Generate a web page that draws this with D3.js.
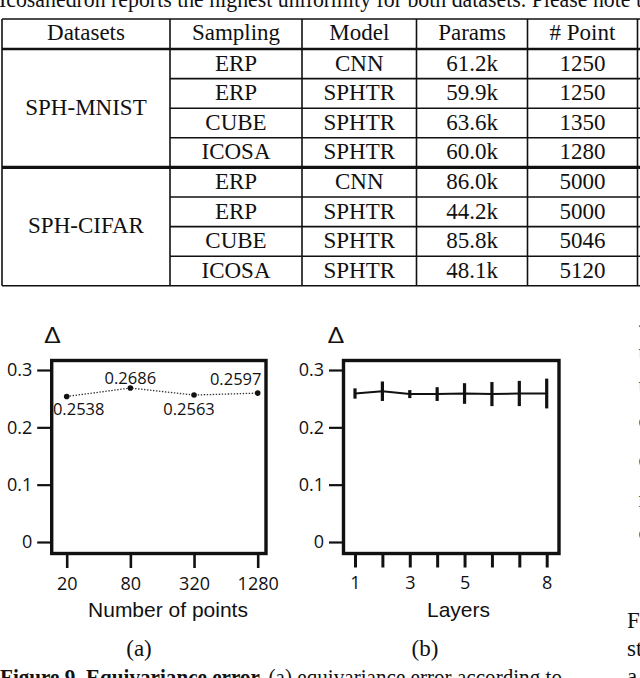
<!DOCTYPE html>
<html>
<head>
<meta charset="utf-8">
<script src="https://cdn.jsdelivr.net/npm/d3@7"></script>
<style>
  body { margin: 0; background: #fff; }
  svg { display: block; }
  .serif { font-family: "Liberation Serif", "Times New Roman", serif; fill: #111; }
  .sans { font-family: "Open Sans", "Noto Sans", sans-serif; fill: #111; }
  .arial { font-family: "Liberation Sans", Arial, sans-serif; fill: #111; }
</style>
</head>
<body>
<svg width="640" height="678"></svg>
<script>
// text and table content
const topLine = "Icosahedron reports the highest uniformity for both datasets. Please note t";
const headers = ["Datasets", "Sampling", "Model", "Params", "# Point"];
const datasets = ["SPH-MNIST", "SPH-CIFAR"];
const sampling = ["ERP", "ERP", "CUBE", "ICOSA", "ERP", "ERP", "CUBE", "ICOSA"];
const models = ["CNN", "SPHTR", "SPHTR", "SPHTR", "CNN", "SPHTR", "SPHTR", "SPHTR"];
const params = ["61.2k", "59.9k", "63.6k", "60.0k", "86.0k", "44.2k", "85.8k", "48.1k"];
const points = ["1250", "1250", "1350", "1280", "5000", "5000", "5046", "5120"];

// chart (a)
const numPoints = ["20", "80", "320", "1280"];
const deltaA = [0.2538, 0.2686, 0.2563, 0.2597];
// chart (b)
const layers = [1, 2, 3, 4, 5, 6, 7, 8];
const deltaB = [0.259, 0.263, 0.258, 0.258, 0.259, 0.258, 0.259, 0.259];
const errB = [0.009, 0.017, 0.007, 0.012, 0.018, 0.021, 0.022, 0.026];
const layerLabels = [1, 3, 5, 8];
const yTicks = [0, 0.1, 0.2, 0.3];

const captionA = "(a)", captionB = "(b)";
const figCaption = ["Figure 9.", " Equivariance error.", " (a) equivariance error according to"];
const rightCol = ["F", "st", "a"];
const edgeBits = ["-", "u", "u", "c", "c", "r", "c"];

const svg = d3.select("svg");
const ink = "#111";

// top text line, cut by the page edge
svg.append("text").attr("class", "serif")
  .attr("x", -1).attr("y", 7)
  .attr("font-size", 22.5)
  .attr("textLength", 643).attr("lengthAdjust", "spacingAndGlyphs")
  .text(topLine);

// ---- table ----
const colX = [2, 170, 302, 416.5, 527.5, 637.5];
const tableTop = 19, headBottom = 49, rowH = 29.6;
const nRows = sampling.length;
const tableBottom = headBottom + nRows * rowH;
const tbl = svg.append("g");

// vertical lines
colX.forEach(x => {
  tbl.append("line").attr("x1", x).attr("x2", x)
    .attr("y1", tableTop).attr("y2", tableBottom)
    .attr("stroke", ink).attr("stroke-width", 1.6);
});
// horizontal lines
tbl.append("line").attr("x1", colX[0]).attr("x2", 640)
  .attr("y1", tableTop).attr("y2", tableTop).attr("stroke", ink).attr("stroke-width", 1.6);
tbl.append("line").attr("x1", colX[0]).attr("x2", 640)
  .attr("y1", headBottom).attr("y2", headBottom).attr("stroke", ink).attr("stroke-width", 2.4);
d3.range(1, nRows + 1).forEach(i => {
  const y = headBottom + i * rowH;
  const group = i === nRows / 2;
  tbl.append("line")
    .attr("x1", group || i === nRows ? colX[0] : colX[1]).attr("x2", 640)
    .attr("y1", y).attr("y2", y)
    .attr("stroke", ink).attr("stroke-width", group ? 3.2 : 1.6);
});

const colCenter = i => (colX[i] + colX[i + 1]) / 2;
tbl.selectAll(".hdr").data(headers).enter().append("text")
  .attr("class", "serif").attr("font-size", 23).attr("text-anchor", "middle")
  .attr("x", (d, i) => colCenter(i)).attr("y", tableTop + 20.5)
  .text(d => d);

const cols = [sampling, models, params, points];
cols.forEach((arr, c) => {
  tbl.selectAll(".c" + c).data(arr).enter().append("text")
    .attr("class", "serif").attr("font-size", 23).attr("text-anchor", "middle")
    .attr("x", colCenter(c + 1))
    .attr("y", (d, i) => headBottom + i * rowH + 21.5)
    .text(d => d);
});
datasets.forEach((d, g) => {
  const yMid = headBottom + (g * 4 + 2) * rowH;
  tbl.append("text").attr("class", "serif").attr("font-size", 23)
    .attr("text-anchor", "middle")
    .attr("x", colCenter(0)).attr("y", yMid + 6.5).text(d);
});

// ---- charts ----
const y = d3.scaleLinear().domain([0, 0.3]).range([542, 370]);

function frame(g, x0, x1) {
  g.append("rect").attr("x", x0).attr("y", 360.5)
    .attr("width", x1 - x0).attr("height", 193)
    .attr("fill", "none").attr("stroke", ink).attr("stroke-width", 3.4);
}

function yAxis(g, x0) {
  const ax = g.append("g").attr("transform", `translate(${x0},0)`)
    .call(d3.axisLeft(y).tickValues(yTicks).tickSize(14.5).tickPadding(5)
      .tickFormat(d => d === 0 ? "0" : d3.format(".1f")(d)));
  ax.select(".domain").remove();
  ax.selectAll("line").attr("stroke", ink).attr("stroke-width", 2.2);
  ax.selectAll("text").attr("class", "sans").attr("font-size", 18);
}

function delta(g, x) {
  g.append("text").attr("class", "sans").attr("font-size", 21)
    .attr("text-anchor", "middle").attr("x", x).attr("y", 343.5)
    .attr("transform", `translate(${x},0) scale(1.35,1) translate(${-x},0)`)
    .text("Δ");
}

// chart (a)
const ga = svg.append("g");
const xa = d3.scalePoint().domain(numPoints).range([66.7, 257.7]);
frame(ga, 51.7, 266);
yAxis(ga, 51.7);
delta(ga, 52.5);
const axA = ga.append("g").attr("transform", "translate(0,553.5)")
  .call(d3.axisBottom(xa).tickSize(14.5).tickPadding(9));
axA.select(".domain").remove();
axA.selectAll("line").attr("stroke", ink).attr("stroke-width", 2.6);
axA.selectAll("text").attr("class", "sans").attr("font-size", 18);

const ptsA = numPoints.map((n, i) => ({ n, v: deltaA[i] }));
ga.append("path").datum(ptsA)
  .attr("d", d3.line().x(d => xa(d.n)).y(d => y(d.v)))
  .attr("fill", "none").attr("stroke", "#333").attr("stroke-width", 1.3)
  .attr("stroke-dasharray", "1.4,1.6");
ga.selectAll(".dot").data(ptsA).enter().append("circle")
  .attr("cx", d => xa(d.n)).attr("cy", d => y(d.v)).attr("r", 2.8).attr("fill", ink);

// value labels: below / above the point, nudged sideways
const labelPlace = [{ dx: 12, dy: 18.5 }, { dx: 0, dy: -4 }, { dx: -5, dy: 20 }, { dx: -22, dy: -8 }];
ga.selectAll(".val").data(ptsA).enter().append("text")
  .attr("class", "sans").attr("font-size", 16.5).attr("text-anchor", "middle")
  .attr("x", (d, i) => xa(d.n) + labelPlace[i].dx)
  .attr("y", (d, i) => y(d.v) + labelPlace[i].dy)
  .text(d => d3.format(".4f")(d.v));

ga.append("text").attr("class", "arial").attr("font-size", 21)
  .attr("text-anchor", "middle").attr("x", 168).attr("y", 617)
  .text("Number of points");

// chart (b)
const gb = svg.append("g");
const xb = d3.scaleLinear().domain([1, 8]).range([355, 546.7]);
frame(gb, 343.5, 559);
yAxis(gb, 343.5);
delta(gb, 336);
const axB = gb.append("g").attr("transform", "translate(0,553.5)")
  .call(d3.axisBottom(xb).tickValues(layers).tickSize(14).tickPadding(9)
    .tickFormat(d => layerLabels.includes(d) ? d : ""));
axB.select(".domain").remove();
axB.selectAll("line").attr("stroke", ink).attr("stroke-width", 3);
axB.selectAll("text").attr("class", "sans").attr("font-size", 18);

const ptsB = layers.map((l, i) => ({ l, v: deltaB[i], e: errB[i] }));
gb.append("path").datum(ptsB)
  .attr("d", d3.line().x(d => xb(d.l)).y(d => y(d.v)))
  .attr("fill", "none").attr("stroke", ink).attr("stroke-width", 2);
gb.selectAll(".err").data(ptsB).enter().append("line")
  .attr("x1", d => xb(d.l)).attr("x2", d => xb(d.l))
  .attr("y1", d => y(d.v - d.e)).attr("y2", d => y(d.v + d.e))
  .attr("stroke", ink).attr("stroke-width", 3.2);

gb.append("text").attr("class", "arial").attr("font-size", 21)
  .attr("text-anchor", "middle").attr("x", 458.5).attr("y", 617)
  .text("Layers");

// sub-captions
svg.append("text").attr("class", "serif").attr("font-size", 23)
  .attr("text-anchor", "middle").attr("x", 139).attr("y", 656).text(captionA);
svg.append("text").attr("class", "serif").attr("font-size", 23)
  .attr("text-anchor", "middle").attr("x", 425).attr("y", 656).text(captionB);

// figure caption, cut by the bottom edge
const cap = svg.append("text").attr("class", "serif").attr("font-size", 23)
  .attr("x", 0).attr("y", 685)
  .attr("textLength", 562).attr("lengthAdjust", "spacingAndGlyphs");
figCaption.forEach((t, i) => {
  cap.append("tspan").attr("font-weight", i < 2 ? "bold" : "normal").text(t);
});

// right column fragments
rightCol.forEach((t, i) => {
  svg.append("text").attr("class", "serif").attr("font-size", 23)
    .attr("x", 627).attr("y", 628 + i * 28).text(t);
});
const edgeY = [332, 360, 393, 428, 467, 507, 540];
edgeBits.forEach((t, i) => {
  svg.append("text").attr("class", "serif").attr("font-size", 23)
    .attr("x", 638.5).attr("y", edgeY[i]).text(t);
});
</script>
</body>
</html>
